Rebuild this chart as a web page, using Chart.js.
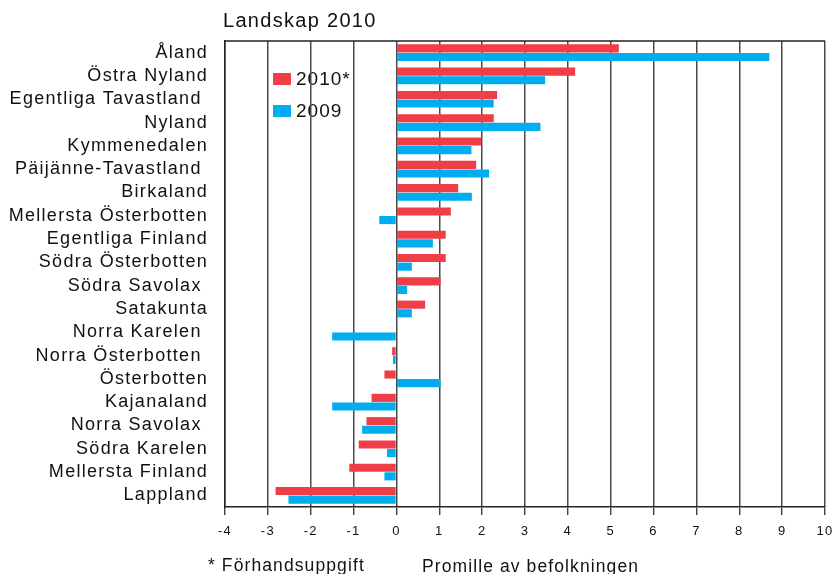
<!DOCTYPE html>
<html>
<head>
<meta charset="utf-8">
<script src="https://cdn.jsdelivr.net/npm/chart.js@4"></script>
<style>
  html, body { margin: 0; padding: 0; background: #fff; }
  #wrap { width: 835px; height: 574px; }
</style>
</head>
<body>
<div id="wrap"><canvas id="chart" width="835" height="574"></canvas></div>
<script>
// landskap och värden (promille av befolkningen)
const categories = ['Åland', 'Östra Nyland', 'Egentliga Tavastland ', 'Nyland', 'Kymmenedalen',
    'Päijänne-Tavastland ', 'Birkaland', 'Mellersta Österbotten', 'Egentliga Finland', 'Södra Österbotten',
    'Södra Savolax ', 'Satakunta', 'Norra Karelen ', 'Norra Österbotten ', 'Österbotten',
    'Kajanaland', 'Norra Savolax ', 'Södra Karelen', 'Mellersta Finland', 'Lappland'];
const values2010 = [5.19, 4.17, 2.35, 2.27, 1.98, 1.86, 1.44, 1.27, 1.15, 1.15,
    1.03, 0.67, 0, -0.1, -0.28, -0.58, -0.7, -0.88, -1.1, -2.82];
const values2009 = [8.70, 3.47, 2.27, 3.36, 1.75, 2.16, 1.76, -0.4, 0.85, 0.36,
    0.25, 0.36, -1.5, -0.08, 1.03, -1.5, -0.8, -0.22, -0.28, -2.52];
const xTicks = [-4, -3, -2, -1, 0, 1, 2, 3, 4, 5, 6, 7, 8, 9, 10];

const RED = 'rgb(240, 62, 70)';
const BLUE = 'rgb(0, 174, 239)';
const FONT = "'Liberation Sans', Arial, sans-serif";

// text och legend som ligger utanför Chart.js egna delar
const extras = {
    id: 'extras',
    beforeLayout(chart) {
        chart.ctx.letterSpacing = '1.3px';
    },
    beforeDraw(chart) {
        const ctx = chart.ctx;
        ctx.save();
        ctx.letterSpacing = '1px';
        // legend, ritas under rutnätet som i originalet
        ctx.fillStyle = RED;
        ctx.fillRect(273, 73, 18, 12);
        ctx.fillStyle = BLUE;
        ctx.fillRect(273, 105, 18, 12);
        ctx.fillStyle = '#111';
        ctx.font = '19px ' + FONT;
        ctx.textBaseline = 'middle';
        ctx.fillText('2010*', 296, 80);
        ctx.fillText('2009', 296, 112);
        ctx.restore();
    },
    afterDraw(chart) {
        const ctx = chart.ctx;
        const a = chart.chartArea;
        ctx.save();
        ctx.strokeStyle = '#222';
        ctx.lineWidth = 1.5;
        ctx.beginPath();
        ctx.moveTo(a.left, a.top);
        ctx.lineTo(a.right, a.top);
        ctx.stroke();
        ctx.fillStyle = '#111';
        ctx.textBaseline = 'middle';
        ctx.letterSpacing = '1.3px';
        ctx.font = '20px ' + FONT;
        ctx.fillText('Landskap 2010', 223, 21);
        ctx.letterSpacing = '1.1px';
        ctx.font = '17.5px ' + FONT;
        ctx.fillText('* Förhandsuppgift', 208, 566);
        ctx.fillText('Promille av befolkningen', 422, 567);
        ctx.restore();
    }
};

const ctx = document.getElementById('chart').getContext('2d');
const chart = new Chart(ctx, {
    type: 'bar',
    data: {
        labels: categories,
        datasets: [
            {
                label: '2010*',
                data: values2010,
                backgroundColor: RED,
                categoryPercentage: 0.74,
                barPercentage: 0.94
            },
            {
                label: '2009',
                data: values2009,
                backgroundColor: BLUE,
                categoryPercentage: 0.74,
                barPercentage: 0.94
            }
        ]
    },
    options: {
        indexAxis: 'y',
        responsive: false,
        animation: false,
        layout: { padding: { top: 41, right: 10, bottom: 0, left: 0 } },
        plugins: {
            legend: { display: false },
            tooltip: { enabled: false }
        },
        scales: {
            x: {
                type: 'linear',
                min: -4,
                max: 10,
                afterBuildTicks: (scale) => { scale.ticks = xTicks.map(v => ({ value: v })); },
                afterFit: (scale) => {
                    scale.height = 67;
                    scale.paddingLeft = 0;
                    scale.paddingRight = 0;
                },
                grid: { color: '#4a4a4a', lineWidth: 1.5, tickLength: 8, tickColor: '#222', tickWidth: 1.2 },
                border: { color: '#222', width: 1.5 },
                ticks: { color: '#111', font: { family: FONT, size: 13 }, padding: 9, maxRotation: 0 }
            },
            y: {
                afterFit: (scale) => {
                    scale.width = 225;
                    scale.paddingTop = 0;
                    scale.paddingBottom = 0;
                },
                grid: { display: false, drawTicks: false },
                border: { color: '#222', width: 1.5 },
                ticks: { color: '#111', font: { family: FONT, size: 18 }, padding: 17, autoSkip: false }
            }
        }
    },
    plugins: [extras]
});
</script>
</body>
</html>
